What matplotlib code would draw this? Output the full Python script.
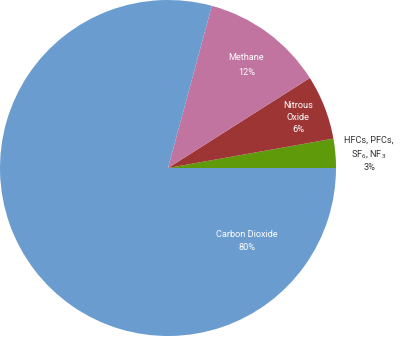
import matplotlib
matplotlib.use("Agg")
import numpy as np
import matplotlib.pyplot as plt

plt.rcParams['font.family'] = ['Roboto', 'DejaVu Sans']
plt.rcParams['mathtext.fontset'] = 'custom'
plt.rcParams['mathtext.rm'] = 'Roboto'

# Datos (en sentido antihorario desde las 3 en punto)
gases = ['HFCs, PFCs,\nSF$_6$, NF$_3$', 'Nitrous\nOxide', 'Methane', 'Carbon Dioxide']
valores = [2.8, 6.2, 11.8, 79.2]
porcentajes = ['3%', '6%', '12%', '80%']
colores = ['#5e9a0a', '#9e3535', '#c174a0', '#6a9ccf']

fig = plt.figure(figsize=(4.0, 3.37), dpi=100)
ax = fig.add_axes([0, 1 / 337, 336 / 400, 336 / 337])

wedges, _ = ax.pie(valores, colors=colores, startangle=0, counterclock=True,
                   radius=1.0, wedgeprops=dict(linewidth=0))
ax.set_xlim(-1, 1)
ax.set_ylim(-1, 1)
ax.set_aspect('equal')
ax.axis('off')

# Etiquetas: (radio relativo, desplazamiento de angulo, interlineado)
pos = [(1.2, -1, 1.35), (0.83, 0, 1.45), (0.77, -1, 1.85), (0.64, 0, 1.5)]
for i, w in enumerate(wedges):
    txt = gases[i] + '\n' + porcentajes[i]
    r, da, ls = pos[i]
    if i == 3:
        ang = np.deg2rad(-42.7)
    else:
        ang = np.deg2rad((w.theta1 + w.theta2) / 2 + da)
    x, y = r * np.cos(ang), r * np.sin(ang)
    color = '#333333' if i == 0 else 'white'
    ax.text(x, y, txt, ha='center', va='center', fontsize=6.6, color=color,
            linespacing=ls, clip_on=False)

fig.savefig('out.png', dpi=100)
